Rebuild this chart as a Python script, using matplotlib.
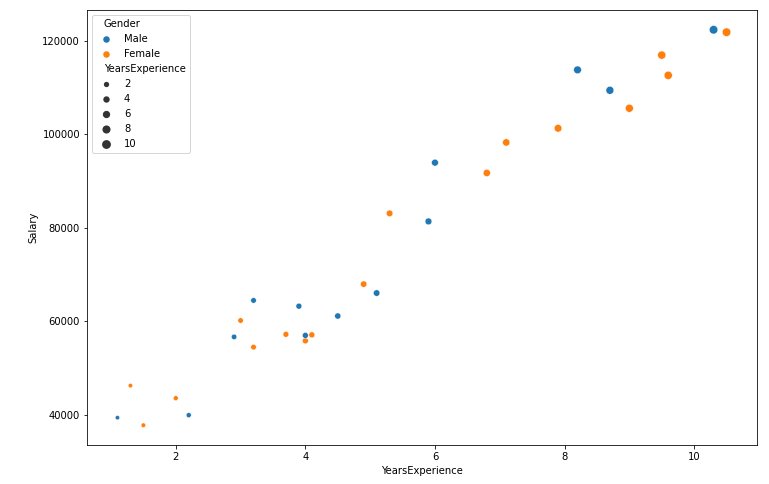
import pandas as pd
import matplotlib
matplotlib.use("Agg")
import matplotlib.pyplot as plt
from matplotlib.lines import Line2D
from matplotlib.offsetbox import HPacker
import seaborn as sns

# salary data
years = [1.1, 1.3, 1.5, 2.0, 2.2, 2.9, 3.0, 3.2, 3.2, 3.7,
         3.9, 4.0, 4.0, 4.1, 4.5, 4.9, 5.1, 5.3, 5.9, 6.0,
         6.8, 7.1, 7.9, 8.2, 8.7, 9.0, 9.5, 9.6, 10.3, 10.5]
salary = [39343, 46205, 37731, 43525, 39891, 56642, 60150, 54445, 64445, 57189,
          63218, 55794, 56957, 57081, 61111, 67938, 66029, 83088, 81363, 93940,
          91738, 98273, 101302, 113812, 109431, 105582, 116969, 112635, 122391, 121872]
gender = ["Male", "Female", "Female", "Female", "Male", "Male", "Female", "Female", "Male", "Female",
          "Male", "Female", "Male", "Female", "Male", "Female", "Male", "Female", "Male", "Male",
          "Female", "Female", "Female", "Male", "Male", "Female", "Female", "Female", "Male", "Female"]
size_ticks = [2, 4, 6, 8, 10]

df = pd.DataFrame({"YearsExperience": years, "Salary": salary, "Gender": gender})

fig = plt.figure(figsize=(769/72, 484/72), dpi=72)
ax = fig.add_axes([87/769, 1 - 445/484, (757-87)/769, (445-10)/484])
sns.scatterplot(data=df, x="YearsExperience", y="Salary", hue="Gender",
                size="YearsExperience", sizes=(18, 72), ax=ax, legend=False)

# build legend by hand (old seaborn look)
pal = sns.color_palette()
lo, hi = min(years), max(years)
def msize(v):
    return (18 + (v - lo) / (hi - lo) * 54) ** 0.5

handles = [Line2D([], [], visible=False)]
labels = ["Gender"]
for i, g in enumerate(["Male", "Female"]):
    handles.append(Line2D([], [], ls="", marker="o", color=pal[i], markersize=6.5,
                          markeredgewidth=0))
    labels.append(g)
handles.append(Line2D([], [], visible=False))
labels.append("YearsExperience")
for v in size_ticks:
    handles.append(Line2D([], [], ls="", marker="o", color=".2", markersize=msize(v) + 0.5,
                          markeredgewidth=0))
    labels.append(str(v))
leg = ax.legend(handles, labels, loc="upper left")
for hp in leg.findobj(HPacker):
    kids = hp.get_children()
    if len(kids) != 2:
        continue
    da, ta = kids
    arts = da.get_children()
    if arts and not all(a.get_visible() for a in arts):
        da.set_width(0)

fig.savefig("out.png", dpi=72)
